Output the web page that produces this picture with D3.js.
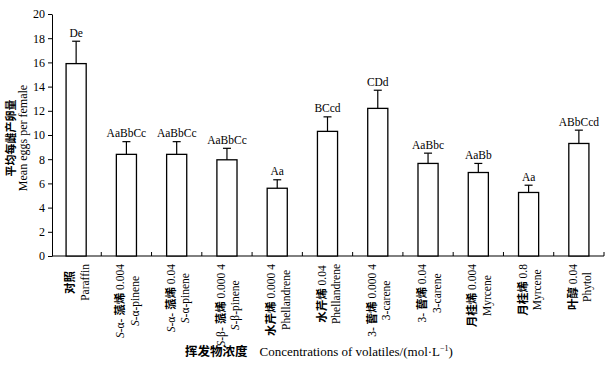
<!DOCTYPE html>
<html>
<head>
<meta charset="utf-8">
<script src="https://cdn.jsdelivr.net/npm/d3@7"></script>
<style>
  body { margin: 0; background: #fff; }
  svg text { font-family: "Liberation Serif", "Times New Roman", serif; fill: #000; }
  .cjk { font-family: "Noto Sans CJK SC", sans-serif; font-weight: 700; }
</style>
</head>
<body>
<svg id="chart"></svg>
<script>
"use strict";

// treatments, Chinese name + concentration (line 1) and English name (line 2)
let cnNames = ["对照", "蒎烯", "蒎烯", "蒎烯", "水芹烯", "水芹烯", "蒈烯", "蒈烯", "月桂烯", "月桂烯", "叶醇"];
let cnPrefix = ["", "S-α-", "S-α-", "S-β-", "", "", "3-", "3-", "", "", ""];
let concs = ["", "0.004", "0.04", "0.000 4", "0.000 4", "0.04", "0.000 4", "0.04", "0.004", "0.8", "0.04"];
let enNames = ["Paraffin", "S-α-pinene", "S-α-pinene", "S-β-pinene", "Phellandrene", "Phellandrene",
  "3-carene", "3-carene", "Myrcene", "Myrcene", "Phytol"];
let meanEggs = [15.9, 8.4, 8.4, 7.95, 5.6, 10.3, 12.2, 7.65, 6.9, 5.25, 9.3];
let errTops = [17.75, 9.45, 9.45, 8.9, 6.3, 11.5, 13.7, 8.5, 7.65, 5.85, 10.4];
let letters = ["De", "AaBbCc", "AaBbCc", "AaBbCc", "Aa", "BCcd", "CDd", "AaBbc", "AaBb", "Aa", "ABbCcd"];
let yTicks = [0, 2, 4, 6, 8, 10, 12, 14, 16, 18, 20];

let width = 611, height = 375;
let plot = { left: 51, right: 604, top: 14, bottom: 256 };

let svg = d3.select('svg#chart')
  .attr('width', width)
  .attr('height', height);

let idx = d3.range(meanEggs.length);

let xScale = d3.scaleBand()
  .domain(idx)
  .range([plot.left, plot.right])
  .paddingInner(0.6)
  .paddingOuter(0.3);

let yScale = d3.scaleLinear()
  .domain([0, 20])
  .range([plot.bottom, plot.top]);

/* y axis */
let yAxis = svg.append('g')
  .attr('transform', `translate(${plot.left + 1}, 0)`)
  .call(d3.axisLeft(yScale).tickValues(yTicks).tickSize(4).tickPadding(3).tickSizeOuter(0));
yAxis.select('.domain').attr('stroke-width', 1);
yAxis.selectAll('text').style('font-size', '12px')
  .style('font-family', '"Liberation Serif", serif')
  .attr('fill', '#222');

/* x axis: baseline with small upward ticks at group boundaries */
let boundaries = d3.range(1, meanEggs.length + 1).map(i => plot.left + i * (plot.right - plot.left) / meanEggs.length);
svg.append('line')
  .attr('x1', plot.left + 1).attr('x2', plot.right)
  .attr('y1', yScale(0)).attr('y2', yScale(0))
  .attr('stroke', '#000').attr('stroke-width', 1);
svg.selectAll('line.xtick')
  .data(boundaries)
  .enter()
  .append('line')
  .attr('class', 'xtick')
  .attr('x1', d => d).attr('x2', d => d)
  .attr('y1', yScale(0)).attr('y2', yScale(0) - 4)
  .attr('stroke', '#000');

/* bars */
svg.selectAll('rect.bar')
  .data(idx)
  .enter()
  .append('rect')
  .attr('class', 'bar')
  .attr('x', i => xScale(i))
  .attr('width', xScale.bandwidth())
  .attr('y', i => yScale(meanEggs[i]))
  .attr('height', i => yScale(0) - yScale(meanEggs[i]))
  .attr('fill', '#fff')
  .attr('stroke', '#000')
  .attr('stroke-width', 1.3);

/* error bars */
let cx = i => xScale(i) + xScale.bandwidth() / 2;
svg.selectAll('line.err')
  .data(idx)
  .enter()
  .append('line')
  .attr('class', 'err')
  .attr('x1', cx).attr('x2', cx)
  .attr('y1', i => yScale(meanEggs[i])).attr('y2', i => yScale(errTops[i]))
  .attr('stroke', '#000').attr('stroke-width', 1.2);
svg.selectAll('line.cap')
  .data(idx)
  .enter()
  .append('line')
  .attr('class', 'cap')
  .attr('x1', i => cx(i) - 4).attr('x2', i => cx(i) + 4)
  .attr('y1', i => yScale(errTops[i])).attr('y2', i => yScale(errTops[i]))
  .attr('stroke', '#000').attr('stroke-width', 1.2);

/* significance letters */
svg.selectAll('text.sig')
  .data(idx)
  .enter()
  .append('text')
  .attr('class', 'sig')
  .attr('x', cx)
  .attr('y', i => yScale(errTops[i]) - 4.5)
  .attr('text-anchor', 'middle')
  .style('font-size', '11.5px')
  .text(i => letters[i]);

/* category labels, rotated, both lines centred on each other */
function italicS(sel, str) {
  // S at the start is written in italic
  if (str.startsWith('S-')) {
    sel.append('tspan').style('font-style', 'italic').text('S');
    sel.append('tspan').text(str.slice(1));
  } else {
    sel.append('tspan').text(str);
  }
}

idx.forEach(i => {
  let g = svg.append('g');
  let t1 = g.append('text')
    .attr('x', 0).attr('y', -2)
    .attr('text-anchor', 'middle')
    .style('font-size', '11.5px');
  if (cnPrefix[i]) {
    italicS(t1, cnPrefix[i]);
    t1.append('tspan').text(' ');
  }
  t1.append('tspan').attr('class', 'cjk').style('font-size', '11.5px').text(cnNames[i]);
  if (concs[i]) {
    t1.append('tspan').text(' ' + concs[i]);
  }
  let t2 = g.append('text')
    .attr('x', 0).attr('y', 12.5)
    .attr('text-anchor', 'middle')
    .style('font-size', '11.5px');
  italicS(t2, enNames[i]);
  let maxLen = Math.max(t1.node().getComputedTextLength(), t2.node().getComputedTextLength());
  g.attr('transform', `translate(${cx(i)}, ${yScale(0) + 8 + maxLen / 2}) rotate(-90)`);
});

/* y axis title */
let yt = svg.append('g')
  .attr('transform', 'translate(15, 138) rotate(-90)');
yt.append('text')
  .attr('class', 'cjk')
  .attr('text-anchor', 'middle')
  .style('font-size', '11px')
  .text('平均每雌产卵量');
yt.append('text')
  .attr('y', 12)
  .attr('text-anchor', 'middle')
  .style('font-size', '12px')
  .text('Mean eggs per female');

/* x axis title */
let xt = svg.append('text')
  .attr('x', 185)
  .attr('y', 356)
  .style('font-size', '13px');
xt.append('tspan').attr('class', 'cjk').style('font-size', '12.5px').text('挥发物浓度');
xt.append('tspan').attr('dx', 12).text('Concentrations of volatiles/(mol·L');
xt.append('tspan').attr('dy', -5).style('font-size', '8px').text('−1');
xt.append('tspan').attr('dy', 5).text(')');
</script>
</body>
</html>
